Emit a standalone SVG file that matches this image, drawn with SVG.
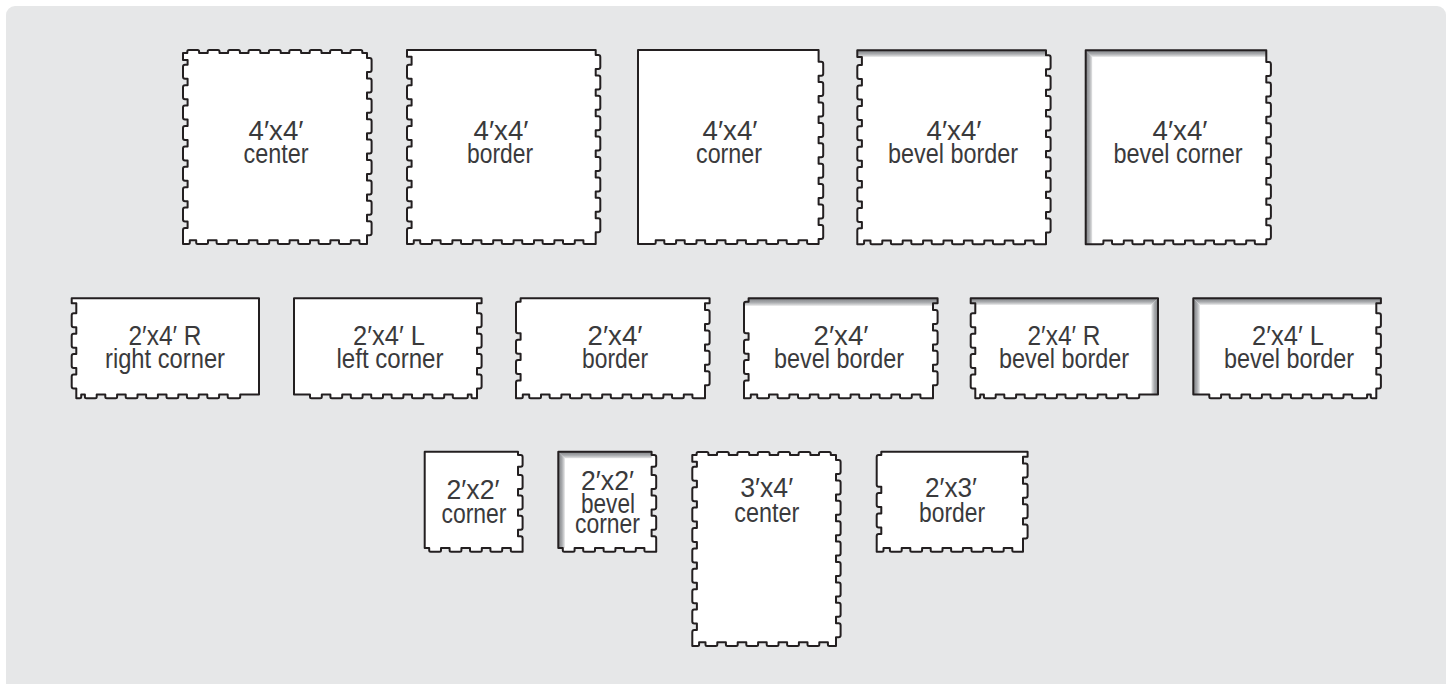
<svg xmlns="http://www.w3.org/2000/svg" width="1452" height="684" viewBox="0 0 1452 684">
<style>
.bg{fill:#e6e7e8}
.tile{fill:#fff;stroke:#231f20;stroke-width:2;stroke-linejoin:round}
.base{fill:#fff}
.line{fill:none;stroke:#231f20;stroke-width:2;stroke-linejoin:round}
text{font-family:"Liberation Sans",Arial,sans-serif;font-size:27.5px;fill:#3a3a3c;text-anchor:middle}
</style>
<defs>
<linearGradient id="gt" x1="0" y1="0" x2="0" y2="1"><stop offset="0" stop-color="#808285"/><stop offset=".5" stop-color="#a7a9ac"/><stop offset=".85" stop-color="#d9dadb"/><stop offset="1" stop-color="#fff"/></linearGradient>
<linearGradient id="gl" x1="0" y1="0" x2="1" y2="0"><stop offset="0" stop-color="#808285"/><stop offset=".5" stop-color="#a7a9ac"/><stop offset=".85" stop-color="#d9dadb"/><stop offset="1" stop-color="#fff"/></linearGradient>
<linearGradient id="gr" x1="1" y1="0" x2="0" y2="0"><stop offset="0" stop-color="#808285"/><stop offset=".5" stop-color="#a7a9ac"/><stop offset=".85" stop-color="#d9dadb"/><stop offset="1" stop-color="#fff"/></linearGradient>
<path id="s44a" d="M0 3H4.3v-1.6q0-1.5 1.5-1.5h8.8q1.5 0 1.5 1.5v1.6h8.6v-1.6q0-1.5 1.5-1.5h8.8q1.5 0 1.5 1.5v1.6h8.6v-1.6q0-1.5 1.5-1.5h8.8q1.5 0 1.5 1.5v1.6h8.6v-1.6q0-1.5 1.5-1.5h8.8q1.5 0 1.5 1.5v1.6h8.6v-1.6q0-1.5 1.5-1.5h8.8q1.5 0 1.5 1.5v1.6h8.6v-1.6q0-1.5 1.5-1.5h8.8q1.5 0 1.5 1.5v1.6h8.6v-1.6q0-1.5 1.5-1.5h8.8q1.5 0 1.5 1.5v1.6h8.6v-1.6q0-1.5 1.5-1.5h8.8q1.5 0 1.5 1.5v1.6h8.6v-1.6q0-1.5 1.5-1.5h8.8q1.5 0 1.5 1.5v1.6H184V8h2.6q2 0 2 2v10q0 2-2 2h-2.6v6.4h2.6q2 0 2 2v10q0 2-2 2h-2.6v6.4h2.6q2 0 2 2v10q0 2-2 2h-2.6v6.4h2.6q2 0 2 2v10q0 2-2 2h-2.6v6.4h2.6q2 0 2 2v10q0 2-2 2h-2.6v6.4h2.6q2 0 2 2v10q0 2-2 2h-2.6v6.4h2.6q2 0 2 2v10q0 2-2 2h-2.6v6.4h2.6q2 0 2 2v10q0 2-2 2h-2.6v6.4h2.6q2 0 2 2v10q0 2-2 2h-2.6V194H177.9q-1.5 0-1.5-1.5v-2.2h-8.6v2.2q0 1.5-1.5 1.5h-8.8q-1.5 0-1.5-1.5v-2.2h-8.6v2.2q0 1.5-1.5 1.5h-8.8q-1.5 0-1.5-1.5v-2.2h-8.6v2.2q0 1.5-1.5 1.5h-8.8q-1.5 0-1.5-1.5v-2.2h-8.6v2.2q0 1.5-1.5 1.5h-8.8q-1.5 0-1.5-1.5v-2.2h-8.6v2.2q0 1.5-1.5 1.5h-8.8q-1.5 0-1.5-1.5v-2.2h-8.6v2.2q0 1.5-1.5 1.5h-8.8q-1.5 0-1.5-1.5v-2.2h-8.6v2.2q0 1.5-1.5 1.5h-8.8q-1.5 0-1.5-1.5v-2.2h-8.6v2.2q0 1.5-1.5 1.5h-8.8q-1.5 0-1.5-1.5v-2.2H6.8v2.2q0 1.5-1.5 1.5H0V180q0-2 2-2h2.6v-6.4h-2.6q-2 0-2-2v-10q0-2 2-2h2.6v-6.4h-2.6q-2 0-2-2v-10q0-2 2-2h2.6v-6.4h-2.6q-2 0-2-2v-10q0-2 2-2h2.6v-6.4h-2.6q-2 0-2-2v-10q0-2 2-2h2.6v-6.4h-2.6q-2 0-2-2v-10q0-2 2-2h2.6v-6.4h-2.6q-2 0-2-2v-10q0-2 2-2h2.6v-6.4h-2.6q-2 0-2-2v-10q0-2 2-2h2.6v-6.4h-2.6q-2 0-2-2v-10q0-2 2-2h2.6V10H0Z"/>
<path id="s44b" d="M0 0H188.7V5h2.6q2 0 2 2v10q0 2-2 2h-2.6v6.4h2.6q2 0 2 2v10q0 2-2 2h-2.6v6.4h2.6q2 0 2 2v10q0 2-2 2h-2.6v6.4h2.6q2 0 2 2v10q0 2-2 2h-2.6v6.4h2.6q2 0 2 2v10q0 2-2 2h-2.6v6.4h2.6q2 0 2 2v10q0 2-2 2h-2.6v6.4h2.6q2 0 2 2v10q0 2-2 2h-2.6v6.4h2.6q2 0 2 2v10q0 2-2 2h-2.6v6.4h2.6q2 0 2 2v10q0 2-2 2h-2.6V194H177.9q-1.5 0-1.5-1.5v-2.2h-8.6v2.2q0 1.5-1.5 1.5h-8.8q-1.5 0-1.5-1.5v-2.2h-8.6v2.2q0 1.5-1.5 1.5h-8.8q-1.5 0-1.5-1.5v-2.2h-8.6v2.2q0 1.5-1.5 1.5h-8.8q-1.5 0-1.5-1.5v-2.2h-8.6v2.2q0 1.5-1.5 1.5h-8.8q-1.5 0-1.5-1.5v-2.2h-8.6v2.2q0 1.5-1.5 1.5h-8.8q-1.5 0-1.5-1.5v-2.2h-8.6v2.2q0 1.5-1.5 1.5h-8.8q-1.5 0-1.5-1.5v-2.2h-8.6v2.2q0 1.5-1.5 1.5h-8.8q-1.5 0-1.5-1.5v-2.2h-8.6v2.2q0 1.5-1.5 1.5h-8.8q-1.5 0-1.5-1.5v-2.2H6.8v2.2q0 1.5-1.5 1.5H0V180q0-2 2-2h2.6v-6.4h-2.6q-2 0-2-2v-10q0-2 2-2h2.6v-6.4h-2.6q-2 0-2-2v-10q0-2 2-2h2.6v-6.4h-2.6q-2 0-2-2v-10q0-2 2-2h2.6v-6.4h-2.6q-2 0-2-2v-10q0-2 2-2h2.6v-6.4h-2.6q-2 0-2-2v-10q0-2 2-2h2.6v-6.4h-2.6q-2 0-2-2v-10q0-2 2-2h2.6v-6.4h-2.6q-2 0-2-2v-10q0-2 2-2h2.6v-6.4h-2.6q-2 0-2-2v-10q0-2 2-2h2.6V6.7H0Z"/>
<path id="s44c" d="M0 0H180.6V11.7h2.6q2 0 2 2v10q0 2-2 2h-2.6v6.4h2.6q2 0 2 2v10q0 2-2 2h-2.6v6.4h2.6q2 0 2 2v10q0 2-2 2h-2.6v6.4h2.6q2 0 2 2v10q0 2-2 2h-2.6v6.4h2.6q2 0 2 2v10q0 2-2 2h-2.6v6.4h2.6q2 0 2 2v10q0 2-2 2h-2.6v6.4h2.6q2 0 2 2v10q0 2-2 2h-2.6v6.4h2.6q2 0 2 2v10q0 2-2 2h-2.6v6.4h2.6q2 0 2 2v10q0 2-2 2h-2.6V194H170.6q-1.5 0-1.5-1.5v-2.2h-8.6v2.2q0 1.5-1.5 1.5h-8.8q-1.5 0-1.5-1.5v-2.2h-8.6v2.2q0 1.5-1.5 1.5h-8.8q-1.5 0-1.5-1.5v-2.2h-8.6v2.2q0 1.5-1.5 1.5h-8.8q-1.5 0-1.5-1.5v-2.2h-8.6v2.2q0 1.5-1.5 1.5h-8.8q-1.5 0-1.5-1.5v-2.2h-8.6v2.2q0 1.5-1.5 1.5h-8.8q-1.5 0-1.5-1.5v-2.2h-8.6v2.2q0 1.5-1.5 1.5h-8.8q-1.5 0-1.5-1.5v-2.2h-8.6v2.2q0 1.5-1.5 1.5h-8.8q-1.5 0-1.5-1.5v-2.2h-8.6v2.2q0 1.5-1.5 1.5h-8.8H0Z"/>
<path id="s24r" d="M0 0H187.3V96.3H168.5v2.2q0 1.5-1.5 1.5H157.5q-1.5 0-1.5-1.5v-2.2h-8.6v2.2q0 1.5-1.5 1.5h-8.8q-1.5 0-1.5-1.5v-2.2h-8.6v2.2q0 1.5-1.5 1.5h-8.8q-1.5 0-1.5-1.5v-2.2h-8.6v2.2q0 1.5-1.5 1.5h-8.8q-1.5 0-1.5-1.5v-2.2h-8.6v2.2q0 1.5-1.5 1.5h-8.8q-1.5 0-1.5-1.5v-2.2h-8.6v2.2q0 1.5-1.5 1.5h-8.8q-1.5 0-1.5-1.5v-2.2h-8.6v2.2q0 1.5-1.5 1.5h-8.8q-1.5 0-1.5-1.5v-2.2h-8.6v2.2q0 1.5-1.5 1.5h-8.8q-1.5 0-1.5-1.5v-2.2H9.5v2.2q0 1.5-1.5 1.5H4.6V90.2h-2.6q-2 0-2-2v-10q0-2 2-2h2.6v-6.4h-2.6q-2 0-2-2v-10q0-2 2-2h2.6v-6.4h-2.6q-2 0-2-2v-10q0-2 2-2h2.6v-6.4h-2.6q-2 0-2-2v-10q0-2 2-2h2.6V5H0Z"/>
<path id="s24l" d="M0 0H187.6V5H183V15h2.6q2 0 2 2v10q0 2-2 2h-2.6v6.4h2.6q2 0 2 2v10q0 2-2 2h-2.6v6.4h2.6q2 0 2 2v10q0 2-2 2h-2.6v6.4h2.6q2 0 2 2v10q0 2-2 2h-2.6V100H179q-1.5 0-1.5-1.5v-2.2H173.8v2.2q0 1.5-1.5 1.5H160.3q-1.5 0-1.5-1.5v-2.2h-8.6v2.2q0 1.5-1.5 1.5h-8.8q-1.5 0-1.5-1.5v-2.2h-8.6v2.2q0 1.5-1.5 1.5h-8.8q-1.5 0-1.5-1.5v-2.2h-8.6v2.2q0 1.5-1.5 1.5h-8.8q-1.5 0-1.5-1.5v-2.2h-8.6v2.2q0 1.5-1.5 1.5h-8.8q-1.5 0-1.5-1.5v-2.2h-8.6v2.2q0 1.5-1.5 1.5h-8.8q-1.5 0-1.5-1.5v-2.2h-8.6v2.2q0 1.5-1.5 1.5h-8.8q-1.5 0-1.5-1.5v-2.2h-8.6v2.2q0 1.5-1.5 1.5h-8.8q-1.5 0-1.5-1.5V96.3H0Z"/>
<path id="s24b" d="M4.6 0H193.6V5H189V11.7h2.6q2 0 2 2v10q0 2-2 2h-2.6v6.4h2.6q2 0 2 2v10q0 2-2 2h-2.6v6.4h2.6q2 0 2 2v10q0 2-2 2h-2.6v6.4h2.6q2 0 2 2v10q0 2-2 2h-2.6V100H177.9q-1.5 0-1.5-1.5v-2.2h-8.6v2.2q0 1.5-1.5 1.5h-8.8q-1.5 0-1.5-1.5v-2.2h-8.6v2.2q0 1.5-1.5 1.5h-8.8q-1.5 0-1.5-1.5v-2.2h-8.6v2.2q0 1.5-1.5 1.5h-8.8q-1.5 0-1.5-1.5v-2.2h-8.6v2.2q0 1.5-1.5 1.5h-8.8q-1.5 0-1.5-1.5v-2.2h-8.6v2.2q0 1.5-1.5 1.5h-8.8q-1.5 0-1.5-1.5v-2.2h-8.6v2.2q0 1.5-1.5 1.5h-8.8q-1.5 0-1.5-1.5v-2.2h-8.6v2.2q0 1.5-1.5 1.5h-8.8q-1.5 0-1.5-1.5v-2.2h-8.6v2.2q0 1.5-1.5 1.5h-8.8q-1.5 0-1.5-1.5v-2.2H6.8v2.2q0 1.5-1.5 1.5H0V84.2q0-2 2-2h2.6v-6.4h-2.6q-2 0-2-2v-10q0-2 2-2h2.6v-6.4h-2.6q-2 0-2-2v-10q0-2 2-2h2.6v-6.4h-2.6q-2 0-2-2V5.4q0-2 2-2h2.6V0Z"/>
<path id="s22" d="M0 0H93.3V3.4h2.6q2 0 2 2V13q0 2-2 2h-2.6V23.3h2.6q2 0 2 2v10q0 2-2 2h-2.6v6.4h2.6q2 0 2 2v10q0 2-2 2h-2.6v6.4h2.6q2 0 2 2v10q0 2-2 2h-2.6v6.4h2.6q2 0 2 2V100H87.6q-1.5 0-1.5-1.5v-2.2h-8.6v2.2q0 1.5-1.5 1.5h-8.8q-1.5 0-1.5-1.5v-2.2h-8.6v2.2q0 1.5-1.5 1.5h-8.8q-1.5 0-1.5-1.5v-2.2h-8.6v2.2q0 1.5-1.5 1.5h-8.8q-1.5 0-1.5-1.5v-2.2h-8.6v2.2q0 1.5-1.5 1.5h-8.8q-1.5 0-1.5-1.5V96.3H0Z"/>
<path id="s34" d="M0 3.3H4.3v-1.6q0-1.5 1.5-1.5h8.8q1.5 0 1.5 1.5v1.6h8.6v-1.6q0-1.5 1.5-1.5h8.8q1.5 0 1.5 1.5v1.6h8.6v-1.6q0-1.5 1.5-1.5h8.8q1.5 0 1.5 1.5v1.6h8.6v-1.6q0-1.5 1.5-1.5h8.8q1.5 0 1.5 1.5v1.6h8.6v-1.6q0-1.5 1.5-1.5h8.8q1.5 0 1.5 1.5v1.6h8.6v-1.6q0-1.5 1.5-1.5h8.8q1.5 0 1.5 1.5v1.6h8.6v-1.6q0-1.5 1.5-1.5h8.8q1.5 0 1.5 1.5v1.6H143.7V8.3h2.6q2 0 2 2v10q0 2-2 2h-2.6v6.4h2.6q2 0 2 2v10q0 2-2 2h-2.6v6.4h2.6q2 0 2 2v10q0 2-2 2h-2.6v6.4h2.6q2 0 2 2v10q0 2-2 2h-2.6v6.4h2.6q2 0 2 2v10q0 2-2 2h-2.6v6.4h2.6q2 0 2 2v10q0 2-2 2h-2.6v6.4h2.6q2 0 2 2v10q0 2-2 2h-2.6v6.4h2.6q2 0 2 2v10q0 2-2 2h-2.6v6.4h2.6q2 0 2 2v10q0 2-2 2h-2.6V194.3H137.1q-1.5 0-1.5-1.5v-2.2h-8.6v2.2q0 1.5-1.5 1.5h-8.8q-1.5 0-1.5-1.5v-2.2h-8.6v2.2q0 1.5-1.5 1.5h-8.8q-1.5 0-1.5-1.5v-2.2h-8.6v2.2q0 1.5-1.5 1.5h-8.8q-1.5 0-1.5-1.5v-2.2h-8.6v2.2q0 1.5-1.5 1.5h-8.8q-1.5 0-1.5-1.5v-2.2h-8.6v2.2q0 1.5-1.5 1.5h-8.8q-1.5 0-1.5-1.5v-2.2h-8.6v2.2q0 1.5-1.5 1.5h-8.8q-1.5 0-1.5-1.5v-2.2H6.8v2.2q0 1.5-1.5 1.5H0V180.3q0-2 2-2h2.6v-6.4h-2.6q-2 0-2-2v-10q0-2 2-2h2.6v-6.4h-2.6q-2 0-2-2v-10q0-2 2-2h2.6v-6.4h-2.6q-2 0-2-2v-10q0-2 2-2h2.6v-6.4h-2.6q-2 0-2-2v-10q0-2 2-2h2.6v-6.4h-2.6q-2 0-2-2v-10q0-2 2-2h2.6v-6.4h-2.6q-2 0-2-2v-10q0-2 2-2h2.6v-6.4h-2.6q-2 0-2-2v-10q0-2 2-2h2.6v-6.4h-2.6q-2 0-2-2v-10q0-2 2-2h2.6V10H0Z"/>
<path id="s23" d="M4.6 0H150.9V5H146.3V11.7h2.6q2 0 2 2v10q0 2-2 2h-2.6v6.4h2.6q2 0 2 2v10q0 2-2 2h-2.6v6.4h2.6q2 0 2 2v10q0 2-2 2h-2.6v6.4h2.6q2 0 2 2v10q0 2-2 2h-2.6V100H137.1q-1.5 0-1.5-1.5v-2.2h-8.6v2.2q0 1.5-1.5 1.5h-8.8q-1.5 0-1.5-1.5v-2.2h-8.6v2.2q0 1.5-1.5 1.5h-8.8q-1.5 0-1.5-1.5v-2.2h-8.6v2.2q0 1.5-1.5 1.5h-8.8q-1.5 0-1.5-1.5v-2.2h-8.6v2.2q0 1.5-1.5 1.5h-8.8q-1.5 0-1.5-1.5v-2.2h-8.6v2.2q0 1.5-1.5 1.5h-8.8q-1.5 0-1.5-1.5v-2.2h-8.6v2.2q0 1.5-1.5 1.5h-8.8q-1.5 0-1.5-1.5v-2.2H6.8v2.2q0 1.5-1.5 1.5H0V84.2q0-2 2-2h2.6v-6.4h-2.6q-2 0-2-2v-10q0-2 2-2h2.6v-6.4h-2.6q-2 0-2-2v-10q0-2 2-2h2.6v-6.4h-2.6q-2 0-2-2V5.4q0-2 2-2h2.6V0Z"/>
</defs>
<rect class="bg" x="6" y="6" width="1440" height="690" rx="9"/>
<g id="t44-center"><use href="#s44a" x="183" y="50" class="tile"/><text x="276" y="140" textLength="55" lengthAdjust="spacingAndGlyphs">4′x4′</text><text x="276" y="163" textLength="65" lengthAdjust="spacingAndGlyphs">center</text></g>
<g id="t44-border"><use href="#s44b" x="407" y="50" class="tile"/><text x="501" y="140" textLength="55" lengthAdjust="spacingAndGlyphs">4′x4′</text><text x="500" y="163" textLength="66" lengthAdjust="spacingAndGlyphs">border</text></g>
<g id="t44-corner"><use href="#s44c" x="638" y="50" class="tile"/><text x="730" y="140" textLength="55" lengthAdjust="spacingAndGlyphs">4′x4′</text><text x="729" y="163" textLength="66" lengthAdjust="spacingAndGlyphs">corner</text></g>
<g id="t44-bevel-border"><use href="#s44b" x="857.3" y="50.3" class="base"/><polygon transform="translate(857.3 50.3)" points="0,0 188.7,0 188.7,7 0,7" fill="url(#gt)"/><use href="#s44b" x="857.3" y="50.3" class="line"/><text x="954" y="140" textLength="55" lengthAdjust="spacingAndGlyphs">4′x4′</text><text x="953" y="163" textLength="130" lengthAdjust="spacingAndGlyphs">bevel border</text></g>
<g id="t44-bevel-corner"><use href="#s44c" x="1085.7" y="50.3" class="base"/><g transform="translate(1085.7 50.3)"><polygon points="0,0 180.6,0 180.6,7 7,7" fill="url(#gt)"/><polygon points="0,0 7,7 7,194 0,194" fill="url(#gl)"/></g><use href="#s44c" x="1085.7" y="50.3" class="line"/><text x="1180" y="140" textLength="55" lengthAdjust="spacingAndGlyphs">4′x4′</text><text x="1178" y="163" textLength="129" lengthAdjust="spacingAndGlyphs">bevel corner</text></g>

<g id="t24-right-corner"><use href="#s24r" x="71.7" y="298.3" class="tile"/><text x="165" y="345" textLength="73" lengthAdjust="spacingAndGlyphs">2′x4′ R</text><text x="165" y="368" textLength="120" lengthAdjust="spacingAndGlyphs">right corner</text></g>
<g id="t24-left-corner"><use href="#s24l" x="294" y="298.3" class="tile"/><text x="389" y="345" textLength="72" lengthAdjust="spacingAndGlyphs">2′x4′ L</text><text x="390" y="368" textLength="107" lengthAdjust="spacingAndGlyphs">left corner</text></g>
<g id="t24-border"><use href="#s24b" x="516" y="298.3" class="tile"/><text x="615" y="345" textLength="55" lengthAdjust="spacingAndGlyphs">2′x4′</text><text x="615" y="368" textLength="66" lengthAdjust="spacingAndGlyphs">border</text></g>
<g id="t24-bevel-border"><use href="#s24b" x="744" y="298.3" class="base"/><polygon transform="translate(744 298.3)" points="0,3.4 4.6,3.4 4.6,0 193.6,0 193.6,5 189,5 189,8 0,8" fill="url(#gt)"/><use href="#s24b" x="744" y="298.3" class="line"/><text x="841" y="345" textLength="55" lengthAdjust="spacingAndGlyphs">2′x4′</text><text x="839" y="368" textLength="130" lengthAdjust="spacingAndGlyphs">bevel border</text></g>
<g id="t24-r-bevel-border"><use href="#s24r" x="970.7" y="298.3" class="base"/><g transform="translate(970.7 298.3)"><polygon points="0,0 187.3,0 180.3,7 0,7" fill="url(#gt)"/><polygon points="187.3,0 180.3,7 180.3,96.3 187.3,96.3" fill="url(#gr)"/></g><use href="#s24r" x="970.7" y="298.3" class="line"/><text x="1064" y="345" textLength="73" lengthAdjust="spacingAndGlyphs">2′x4′ R</text><text x="1064" y="368" textLength="130" lengthAdjust="spacingAndGlyphs">bevel border</text></g>
<g id="t24-l-bevel-border"><use href="#s24l" x="1193.3" y="298.3" class="base"/><g transform="translate(1193.3 298.3)"><polygon points="0,0 187.6,0 187.6,5 183,5 183,7 7,7" fill="url(#gt)"/><polygon points="0,0 7,7 7,96.3 0,96.3" fill="url(#gl)"/></g><use href="#s24l" x="1193.3" y="298.3" class="line"/><text x="1288" y="345" textLength="72" lengthAdjust="spacingAndGlyphs">2′x4′ L</text><text x="1289" y="368" textLength="130" lengthAdjust="spacingAndGlyphs">bevel border</text></g>

<g id="t22-corner"><use href="#s22" x="424.7" y="451.7" class="tile"/><text x="473" y="499" textLength="53" lengthAdjust="spacingAndGlyphs">2′x2′</text><text x="474" y="523" textLength="65" lengthAdjust="spacingAndGlyphs">corner</text></g>
<g id="t22-bevel-corner"><use href="#s22" x="558.3" y="451.7" class="base"/><g transform="translate(558.3 451.7)"><polygon points="0,0 93.3,0 93.3,7 7,7" fill="url(#gt)"/><polygon points="0,0 7,7 7,96.3 0,96.3" fill="url(#gl)"/></g><use href="#s22" x="558.3" y="451.7" class="line"/><text x="607.5" y="490" textLength="53" lengthAdjust="spacingAndGlyphs">2′x2′</text><text x="608" y="513" textLength="54" lengthAdjust="spacingAndGlyphs">bevel</text><text x="607.5" y="533" textLength="65" lengthAdjust="spacingAndGlyphs">corner</text></g>
<g id="t34-center"><use href="#s34" x="692.3" y="451.7" class="tile"/><text x="766.7" y="497" textLength="53" lengthAdjust="spacingAndGlyphs">3′x4′</text><text x="766.7" y="522" textLength="65" lengthAdjust="spacingAndGlyphs">center</text></g>
<g id="t23-border"><use href="#s23" x="876.7" y="451.7" class="tile"/><text x="951" y="497" textLength="52" lengthAdjust="spacingAndGlyphs">2′x3′</text><text x="952" y="522" textLength="66" lengthAdjust="spacingAndGlyphs">border</text></g>
</svg>
